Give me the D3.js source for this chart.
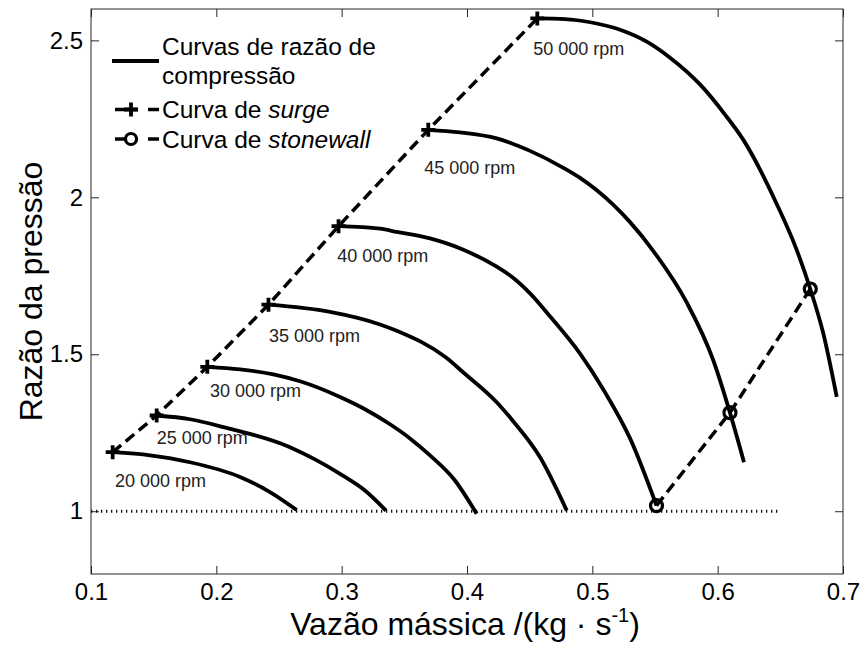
<!DOCTYPE html>
<html>
<head>
<meta charset="utf-8">
<script src="https://cdn.jsdelivr.net/npm/d3@7"></script>
<style>
  html, body { margin: 0; padding: 0; background: #fff; }
  svg { display: block; font-family: "Liberation Sans", Arial, Helvetica, sans-serif; }
</style>
</head>
<body>
<svg id="chart" width="860" height="651"></svg>
<script>
// Compressor map: pressure ratio vs. mass flow for several shaft speeds.

// Speed lines (rpm) and their labels
const speeds = [20000, 25000, 30000, 35000, 40000, 45000, 50000];
const speedLabels = ["20 000 rpm", "25 000 rpm", "30 000 rpm", "35 000 rpm",
                     "40 000 rpm", "45 000 rpm", "50 000 rpm"];

// Pressure-ratio curves, [mass flow kg/s, pressure ratio]
const curve20k = [[0.1173, 1.188], [0.1471, 1.178], [0.1790, 1.156], [0.2189, 1.109],
                  [0.2428, 1.061], [0.2641, 1.004]];
const curve25k = [[0.1524, 1.305], [0.1790, 1.293], [0.2056, 1.268], [0.2588, 1.204],
                  [0.2787, 1.165], [0.2987, 1.119], [0.3186, 1.066], [0.3354, 1.002]];
const curve30k = [[0.1928, 1.460], [0.2189, 1.452], [0.2455, 1.436], [0.2668, 1.414],
                  [0.2987, 1.364], [0.3186, 1.325], [0.3386, 1.277], [0.3545, 1.232],
                  [0.3705, 1.178], [0.3904, 1.098], [0.4077, 0.992]];
const curve35k = [[0.2416, 1.658], [0.2907, 1.635], [0.3306, 1.595], [0.3439, 1.575],
                  [0.3838, 1.488], [0.3971, 1.442], [0.4237, 1.347], [0.4370, 1.286],
                  [0.4583, 1.172], [0.4796, 1.002]];
const curve40k = [[0.2975, 1.908], [0.3306, 1.900], [0.3439, 1.890], [0.3705, 1.869],
                  [0.3971, 1.833], [0.4237, 1.779], [0.4370, 1.743], [0.4503, 1.694],
                  [0.4662, 1.621], [0.4902, 1.502], [0.5101, 1.379], [0.5301, 1.232],
                  [0.5512, 1.018]];
const curve45k = [[0.3691, 2.215], [0.3944, 2.207], [0.4237, 2.188], [0.4503, 2.148],
                  [0.4769, 2.094], [0.4902, 2.062], [0.5168, 1.976], [0.5301, 1.921],
                  [0.5487, 1.829], [0.5753, 1.665], [0.5965, 1.481], [0.6098, 1.314],
                  [0.6210, 1.156]];
const curve50k = [[0.4561, 2.570], [0.4782, 2.568], [0.4995, 2.557], [0.5221, 2.534],
                  [0.5434, 2.496], [0.5620, 2.445], [0.5861, 2.359], [0.6060, 2.263],
                  [0.6205, 2.183], [0.6471, 1.979], [0.6631, 1.832], [0.6739, 1.708],
                  [0.6843, 1.566], [0.6950, 1.364]];
const speedCurves = [curve20k, curve25k, curve30k, curve35k, curve40k, curve45k, curve50k];

// Surge line (one point per speed)
const surgeFlow     = [0.1173, 0.1524, 0.1928, 0.2416, 0.2975, 0.3691, 0.4561];
const surgePressure = [1.188, 1.305, 1.460, 1.658, 1.908, 2.215, 2.570];

// Stonewall (choke) line for 40k, 45k and 50k rpm
const stonewallFlow     = [0.5512, 0.6098, 0.6739];
const stonewallPressure = [1.018, 1.314, 1.708];

// Unity pressure-ratio reference
const unityFlow = [0.1, 0.65];
const unityPressure = [1, 1];

// Speed label anchors (flow, pressure)
const labelFlow     = [0.1191, 0.1524, 0.1950, 0.2420, 0.2965, 0.3659, 0.4529];
const labelPressure = [1.077, 1.213, 1.365, 1.540, 1.795, 2.075, 2.455];

// Axis ticks
const xTicks = [0.1, 0.2, 0.3, 0.4, 0.5, 0.6, 0.7];
const yTicks = [1, 1.5, 2, 2.5];

// ---------------------------------------------------------------------------
const svg = d3.select("#chart");
const margin = { left: 91, right: 17, top: 9, bottom: 77 };
const W = 860, H = 651;

const x = d3.scaleLinear().domain([0.1, 0.7]).range([margin.left, W - margin.right]);
const y = d3.scaleLinear().domain([0.8, 2.6]).range([H - margin.bottom, margin.top]);

const ink = "#000";
const frameColor = "#262626";
const fontStack = "'Liberation Sans', Arial, sans-serif";

// Axes (ticks pointing inward, box on all four sides)
const tickLen = 8;
const fmt = d => d3.format("")(d);

const gB = svg.append("g").attr("transform", `translate(0,${y.range()[0]})`)
  .call(d3.axisBottom(x).tickValues(xTicks).tickFormat(fmt)
        .tickSizeInner(-tickLen).tickSizeOuter(0).tickPadding(9));
const gT = svg.append("g").attr("transform", `translate(0,${y.range()[1]})`)
  .call(d3.axisTop(x).tickValues(xTicks).tickFormat("")
        .tickSizeInner(-tickLen).tickSizeOuter(0));
const gL = svg.append("g").attr("transform", `translate(${x.range()[0]},0)`)
  .call(d3.axisLeft(y).tickValues(yTicks).tickFormat(fmt)
        .tickSizeInner(-tickLen).tickSizeOuter(0).tickPadding(8));
const gR = svg.append("g").attr("transform", `translate(${x.range()[1]},0)`)
  .call(d3.axisRight(y).tickValues(yTicks).tickFormat("")
        .tickSizeInner(-tickLen).tickSizeOuter(0));

[gB, gT, gL, gR].forEach(g => {
  g.select(".domain").remove();
  g.selectAll(".tick line").attr("stroke", frameColor).attr("stroke-width", 1);
  g.selectAll(".tick text").attr("fill", ink)
    .style("font-size", "24px").style("font-family", fontStack);
});

// Frame
svg.append("rect")
  .attr("x", x.range()[0]).attr("y", y.range()[1])
  .attr("width", x.range()[1] - x.range()[0])
  .attr("height", y.range()[0] - y.range()[1])
  .attr("fill", "none").attr("stroke", frameColor).attr("stroke-width", 1);

// Axis titles
const xTitle = svg.append("text")
  .attr("x", 465).attr("y", 635)
  .attr("text-anchor", "middle").style("font-size", "32px").attr("fill", ink);
xTitle.append("tspan").text("Vazão mássica /(kg · s");
xTitle.append("tspan").attr("dy", -13).style("font-size", "20px").text("-1");
xTitle.append("tspan").attr("dy", 13).text(")");

svg.append("text")
  .attr("transform", `translate(42,${(y.range()[0] + y.range()[1]) / 2}) rotate(-90)`)
  .attr("text-anchor", "middle").style("font-size", "32px").attr("fill", ink)
  .text("Razão da pressão");

const plot = svg.append("g");

// Unity reference (dotted)
plot.append("path")
  .datum(d3.zip(unityFlow, unityPressure))
  .attr("d", d3.line().x(d => x(d[0])).y(d => y(d[1])))
  .attr("fill", "none").attr("stroke", "#111").attr("stroke-width", 3)
  .attr("stroke-dasharray", "1.3,3.7");

// Speed curves
const speedLine = d3.line().x(d => x(d[0])).y(d => y(d[1])).curve(d3.curveMonotoneX);
plot.selectAll("path.speed").data(speedCurves).join("path")
  .attr("class", "speed")
  .attr("d", speedLine)
  .attr("fill", "none").attr("stroke", ink).attr("stroke-width", 3.8)
  .attr("stroke-linecap", "butt").attr("stroke-linejoin", "round");

// Surge line and markers
const straight = d3.line().x(d => x(d[0])).y(d => y(d[1]));
const surgePts = d3.zip(surgeFlow, surgePressure);
plot.append("path").datum(surgePts).attr("d", straight)
  .attr("fill", "none").attr("stroke", ink).attr("stroke-width", 3.5)
  .attr("stroke-dasharray", "11,6");

const plusPath = s => `M${-s},0H${s}M0,${-s}V${s}`;
plot.selectAll("path.surge").data(surgePts).join("path")
  .attr("class", "surge")
  .attr("transform", d => `translate(${x(d[0])},${y(d[1])})`)
  .attr("d", plusPath(7))
  .attr("fill", "none").attr("stroke", ink).attr("stroke-width", 3.8);

// Stonewall line and markers
const stonePts = d3.zip(stonewallFlow, stonewallPressure);
plot.append("path").datum(stonePts).attr("d", straight)
  .attr("fill", "none").attr("stroke", ink).attr("stroke-width", 3.5)
  .attr("stroke-dasharray", "11,6");
plot.selectAll("circle.stone").data(stonePts).join("circle")
  .attr("class", "stone")
  .attr("cx", d => x(d[0])).attr("cy", d => y(d[1])).attr("r", 6)
  .attr("fill", "none").attr("stroke", ink).attr("stroke-width", 3.2);

// Speed labels
plot.selectAll("text.speed").data(speedLabels).join("text")
  .attr("class", "speed")
  .attr("x", (d, i) => x(labelFlow[i])).attr("y", (d, i) => y(labelPressure[i]))
  .style("font-size", "18px").attr("fill", "#222")
  .text(d => d);

// Legend
const lg = svg.append("g");
const lx0 = 112, lx1 = 159, ltx = 162;
lg.append("line").attr("x1", lx0).attr("x2", lx1).attr("y1", 61).attr("y2", 61)
  .attr("stroke", ink).attr("stroke-width", 4);
lg.append("text").attr("x", ltx).attr("y", 55).style("font-size", "24.5px").attr("fill", ink)
  .text("Curvas de razão de");
lg.append("text").attr("x", ltx).attr("y", 84).style("font-size", "24.5px").attr("fill", ink)
  .text("compressão");

lg.append("line").attr("x1", lx0 + 3).attr("x2", lx1).attr("y1", 109.5).attr("y2", 109.5)
  .attr("stroke", ink).attr("stroke-width", 3.5).attr("stroke-dasharray", "23,10");
lg.append("path").attr("transform", "translate(131,109.5)").attr("d", plusPath(7))
  .attr("fill", "none").attr("stroke", ink).attr("stroke-width", 3.8);
const t2 = lg.append("text").attr("x", ltx).attr("y", 118).style("font-size", "24.5px").attr("fill", ink);
t2.append("tspan").text("Curva de ");
t2.append("tspan").style("font-style", "italic").text("surge");

lg.append("line").attr("x1", lx0 + 3).attr("x2", lx1).attr("y1", 139).attr("y2", 139)
  .attr("stroke", ink).attr("stroke-width", 3.5).attr("stroke-dasharray", "23,10");
lg.append("circle").attr("cx", 131).attr("cy", 139).attr("r", 5.5)
  .attr("fill", "#fff").attr("stroke", ink).attr("stroke-width", 3.2);
const t3 = lg.append("text").attr("x", ltx).attr("y", 148).style("font-size", "24.5px").attr("fill", ink);
t3.append("tspan").text("Curva de ");
t3.append("tspan").style("font-style", "italic").text("stonewall");
</script>
</body>
</html>
